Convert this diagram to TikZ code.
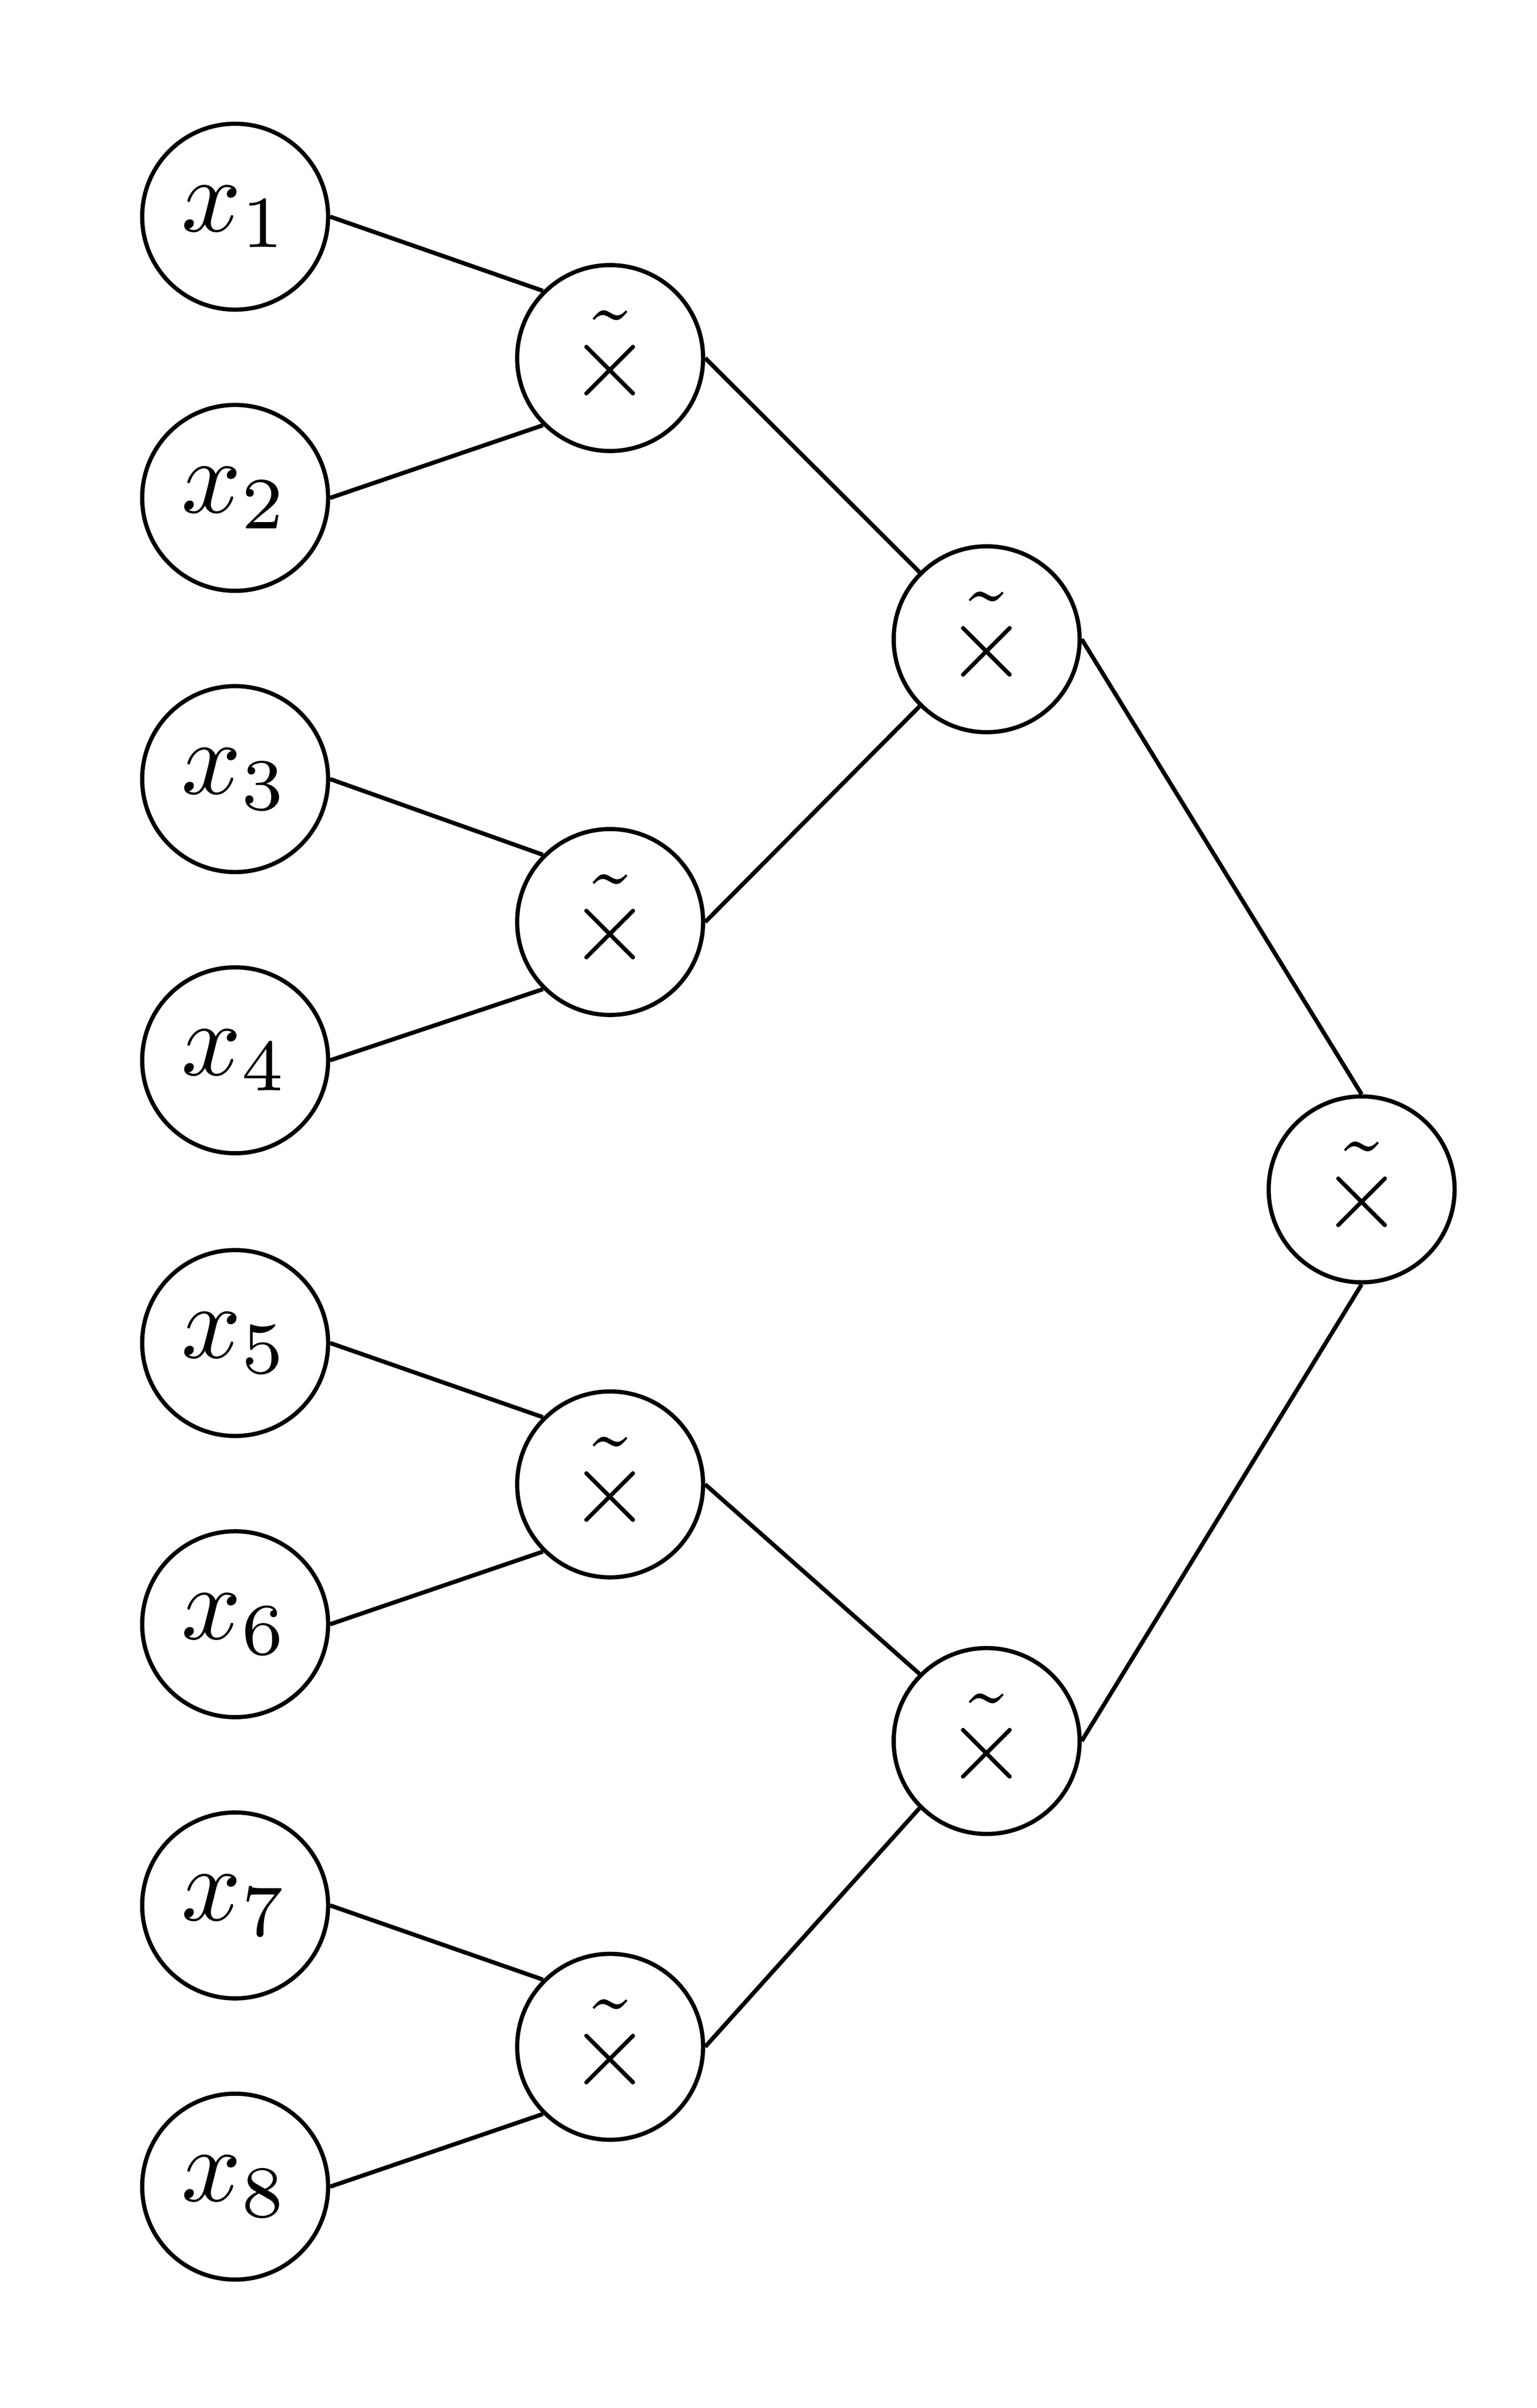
\documentclass[tikz,border=0pt]{standalone}
\begin{document}
\begin{tikzpicture}[x=0.00514cm,y=-0.00514cm,
  nd/.style={draw,circle,line width=0.4pt,inner sep=0pt,minimum size=17.7pt},
  conn/.style={line width=0.4pt}]
\useasboundingbox (0,0) rectangle (1000,1567.07);
\foreach \i/\yy in {1/141,2/324,3/507,4/690,5/874,6/1057,7/1240,8/1423}
  \node[nd] (x\i) at (153,\yy) {$x_{\i}$};
\node[nd] (a1) at (397,233) {$\tilde{\times}$};
\node[nd] (a2) at (397,600) {$\tilde{\times}$};
\node[nd] (a3) at (397,966) {$\tilde{\times}$};
\node[nd] (a4) at (397,1332) {$\tilde{\times}$};
\node[nd] (b1) at (642,416) {$\tilde{\times}$};
\node[nd] (b2) at (642,1133) {$\tilde{\times}$};
\node[nd] (c1) at (886,774) {$\tilde{\times}$};
\draw[conn] (x1.east) -- (a1.north west);
\draw[conn] (x2.east) -- (a1.south west);
\draw[conn] (x3.east) -- (a2.north west);
\draw[conn] (x4.east) -- (a2.south west);
\draw[conn] (x5.east) -- (a3.north west);
\draw[conn] (x6.east) -- (a3.south west);
\draw[conn] (x7.east) -- (a4.north west);
\draw[conn] (x8.east) -- (a4.south west);
\draw[conn] (a1.east) -- (b1.north west);
\draw[conn] (a2.east) -- (b1.south west);
\draw[conn] (a3.east) -- (b2.north west);
\draw[conn] (a4.east) -- (b2.south west);
\draw[conn] (b1.east) -- (c1.north);
\draw[conn] (b2.east) -- (c1.south);
\end{tikzpicture}
\end{document}
